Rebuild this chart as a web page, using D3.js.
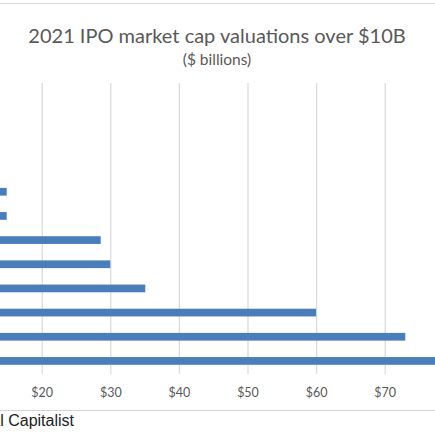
<!DOCTYPE html>
<html>
<head>
<meta charset="utf-8">
<script src="https://cdn.jsdelivr.net/npm/d3@7"></script>
<style>
  body { margin: 0; background: #fff; }
  svg { display: block; }
</style>
</head>
<body>
<svg id="chart"></svg>
<script>
// 2021 IPO market caps, top to bottom (chart is cropped on the left,
// so the category labels and the first few bars sit outside the view)
const categories = ["r1", "r2", "r3", "r4", "r5", "r6", "r7", "r8", "r9", "r10", "r11", "r12"];
const values = [10.4, 11.3, 12.2, 13.1, 14.9, 14.9, 28.6, 30.0, 35.1, 60.0, 73.0, 86.0];
const tickValues = [20, 30, 40, 50, 60, 70];

const title = "2021 IPO market cap valuations over $10B";
const subtitle = "($ billions)";
const source = "Source: Visual Capitalist";

const width = 435;
const height = 435;
const margin = {'top': 83, 'bottom': 62};

const svg = d3.select('svg#chart')
  .attr('width', width)
  .attr('height', height)
  .attr('viewBox', [0, 0, width, height]);

// frame lines of the original image
svg.append('line')
  .attr('x1', 0).attr('x2', width)
  .attr('y1', 3.5).attr('y2', 3.5)
  .attr('stroke', '#dcdcdc');
svg.append('line')
  .attr('x1', 0).attr('x2', width)
  .attr('y1', 410.5).attr('y2', 410.5)
  .attr('stroke', '#d4d4d4');

// titles
svg.append('text')
  .attr('x', 217).attr('y', 43)
  .attr('text-anchor', 'middle')
  .attr('font-family', 'Lato, sans-serif')
  .attr('font-size', '20px')
  .attr('fill', '#595959')
  .text(title);

svg.append('text')
  .attr('x', 217).attr('y', 65)
  .attr('text-anchor', 'middle')
  .attr('font-family', 'Lato, sans-serif')
  .attr('font-size', '15.5px')
  .attr('fill', '#595959')
  .text(subtitle);

// scales: $0 sits left of the visible area
const x = d3.scaleLinear()
  .domain([0, 80])
  .range([-95.5, 453.3]);

const plotBottom = height - margin.bottom;  // ~373
const y = d3.scaleBand()
  .domain(categories)
  .range([margin.top, plotBottom])
  .paddingInner(0.68)
  .paddingOuter(0.34);

// vertical gridlines
const gGrid = svg.append('g')
  .attr('transform', `translate(0, ${margin.top})`);
gGrid.call(d3.axisBottom(x)
    .tickValues(tickValues)
    .tickSize(plotBottom - margin.top + 1)
    .tickFormat(''))
  .call(g => g.select('.domain').remove())
  .call(g => g.selectAll('.tick line')
    .attr('stroke', '#d9d9d9')
    .attr('stroke-width', 1.2));

// bars
const data = categories.map((c, i) => ({cat: c, value: values[i]}));
svg.append('g')
  .selectAll('rect')
  .data(data)
  .enter()
  .append('rect')
    .attr('x', x(0))
    .attr('y', d => y(d.cat))
    .attr('width', d => x(d.value) - x(0))
    .attr('height', y.bandwidth())
    .attr('fill', '#4a7ebb');

// x axis labels
const gXAxis = svg.append('g')
  .attr('transform', `translate(0, ${plotBottom})`);
gXAxis.call(d3.axisBottom(x)
    .tickValues(tickValues)
    .tickSize(0)
    .tickPadding(15)
    .tickFormat(d => `$${d}`))
  .call(g => g.select('.domain').remove())
  .call(g => g.selectAll('text')
    .attr('font-family', 'Lato, sans-serif')
    .attr('font-size', '12.5px')
    .attr('fill', '#595959'));

// source note, cropped on the left
svg.append('text')
  .attr('x', 74).attr('y', 426)
  .attr('text-anchor', 'end')
  .attr('font-family', 'Liberation Sans, Arial, sans-serif')
  .attr('font-size', '16px')
  .attr('fill', '#222')
  .text(source);
</script>
</body>
</html>
